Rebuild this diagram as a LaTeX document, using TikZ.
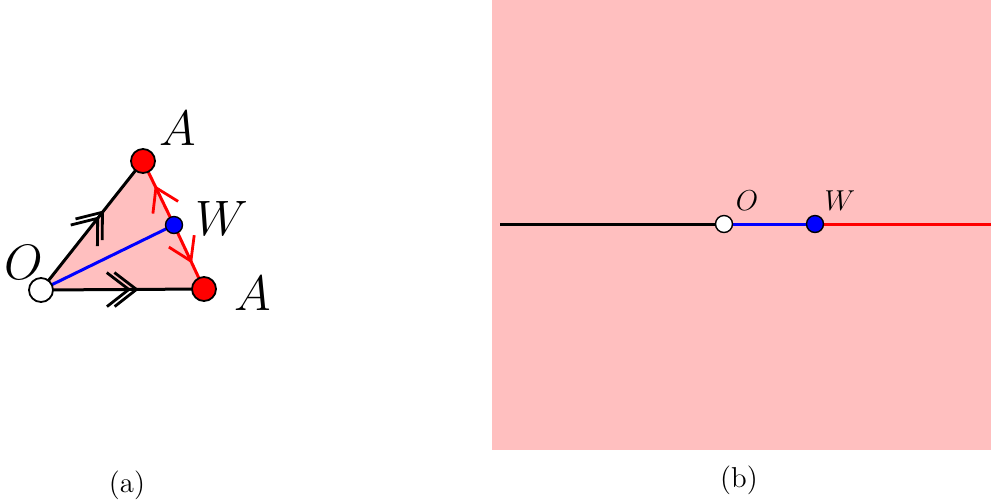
\documentclass[tikz,border=0pt]{standalone}
\usepackage{tikz}
\usetikzlibrary{arrows.meta, decorations.markings}
\colorlet{pinkfill}{red!25}
\begin{document}
\begin{tikzpicture}[
        x=0.5pt, y=-0.5pt,
        vertex/.style={circle, draw, line width=0.9pt, inner sep=0pt, minimum size=12pt},
        smallvertex/.style={circle, draw, line width=0.7pt, inner sep=0pt, minimum size=8.5pt},
        biglabel/.style={font=\Huge},
        midlabel/.style={font=\Large},
        caption/.style={font=\Large},
        edge/.style={line width=1.5pt},
        dbl/.style 2 args={postaction={decorate, decoration={markings,
            mark=at position #1 with {\arrow[line width=1.4pt]{Straight Barb[length=11pt, width=17pt]}},
            mark=at position #2 with {\arrow[line width=1.4pt]{Straight Barb[length=11pt, width=17pt]}}}}},
        sgl/.style={postaction={decorate, decoration={markings,
            mark=at position #1 with {\arrow[line width=1.4pt]{Straight Barb[length=11pt, width=14pt]}}}}},
    ]
    \useasboundingbox (0,0) rectangle (991,500);

    % (a) triangle
    \coordinate (o) at (41,290);
    \coordinate (a1) at (143,161);
    \coordinate (w) at (174,225);
    \coordinate (a2) at (204,289);
    \fill[pinkfill] (o) -- (a1) -- (a2) -- cycle;
    \draw[edge, dbl={0.617}{0.57}] (o) -- (a1);
    \draw[edge, dbl={0.60}{0.553}] (o) -- (a2);
    \draw[edge, red, sgl=0.62] (w) -- (a1);
    \draw[edge, red, sgl=0.6] (w) -- (a2);
    \draw[edge, blue] (o) -- (w);
    \node[vertex, fill=white] (nO) at (o) {};
    \node[vertex, fill=red] (nA1) at (a1) {};
    \node[vertex, fill=red] (nA2) at (a2) {};
    \node[smallvertex, fill=blue] (nW) at (w) {};
    \node[biglabel] (lO) at (24,262) {$O$};
    \node[biglabel] (lA1) at (178,128) {$A$};
    \node[biglabel] (lW) at (222,218) {$W$};
    \node[biglabel] (lA2) at (253,293) {$A$};
    \node[caption] (capa) at (127,485) {(a)};

    % (b) line
    \fill[pinkfill] (492,0) rectangle (991,450);
    \coordinate (left) at (500,224);
    \coordinate (po) at (724,224);
    \coordinate (pw) at (815,224);
    \coordinate (right) at (991,224);
    \draw[edge] (left) -- (po);
    \draw[edge, blue] (po) -- (pw);
    \draw[edge, red] (pw) -- (right);
    \node[smallvertex, fill=white] (bO) at (po) {};
    \node[smallvertex, fill=blue] (bW) at (pw) {};
    \node[midlabel] (lbO) at (747,201) {$O$};
    \node[midlabel] (lbW) at (840,201) {$W$};
    \node[caption] (capb) at (739,480) {(b)};
\end{tikzpicture}
\end{document}
